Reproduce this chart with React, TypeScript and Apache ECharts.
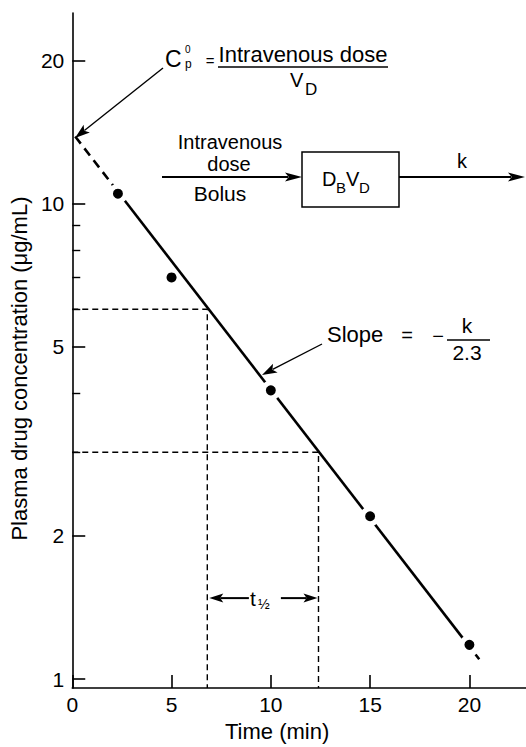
import React, { useEffect, useRef } from 'react';
import * as echarts from 'echarts';

// ---- data ----
const xTicks = [0, 5, 10, 15, 20];
const yMajorTicks = [1, 2, 5, 10, 20];
const yMinorTicks = [3, 4, 6, 7, 8, 9];
const times = [2.3, 5, 10, 15, 20];
const concentrations = [10.5, 7.0, 4.05, 2.2, 1.18];
// fitted line (log-linear), dashed extrapolations at both ends
const fitStart = [0.15, 13.85];
const fitFirst = [2.3, 10.6];
const fitLast = [20, 1.17];
const fitEnd = [20.5, 1.1];
// half-life construction
const halfLifeA = [6.8, 6];
const halfLifeB = [12.4, 3];
const tHalfArrowLevel = 1.48;
const X_MIN = 0;
const X_MAX = 22.85;
const Y_MIN = 0.957;
const Y_MAX = 25.2;

const FONT = '"Liberation Sans", Arial, Helvetica, sans-serif';

function txt(text: string, x: number, y: number, size: number, align = 'center', vAlign = 'middle') {
  return {
    type: 'text',
    x,
    y,
    silent: true,
    style: {
      text,
      fill: '#000',
      fontSize: size,
      fontFamily: FONT,
      align,
      verticalAlign: vAlign,
      textAlign: align,
      textVerticalAlign: vAlign,
    },
  };
}

function arrow(x1: number, y1: number, x2: number, y2: number, headLen: number, headW: number, lw: number) {
  const dx = x2 - x1;
  const dy = y2 - y1;
  const L = Math.hypot(dx, dy);
  const ux = dx / L;
  const uy = dy / L;
  const px = -uy;
  const py = ux;
  const bx = x2 - ux * headLen;
  const by = y2 - uy * headLen;
  return [
    {
      type: 'line',
      silent: true,
      shape: { x1, y1, x2: bx + ux * 3, y2: by + uy * 3 },
      style: { stroke: '#000', lineWidth: lw },
    },
    {
      type: 'polygon',
      silent: true,
      shape: {
        points: [
          [x2, y2],
          [bx + (px * headW) / 2, by + (py * headW) / 2],
          [x2 - ux * headLen * 0.78, y2 - uy * headLen * 0.78],
          [bx - (px * headW) / 2, by - (py * headW) / 2],
        ],
      },
      style: { fill: '#000' },
    },
  ];
}

export default function App() {
  const ref = useRef<HTMLDivElement>(null);

  useEffect(() => {
    if (!ref.current) return;
    const chart = echarts.init(ref.current, undefined, { renderer: 'svg' });

    const axisCommon = {
      splitLine: { show: false },
      minorTick: { show: false },
      minorSplitLine: { show: false },
    };

    const scatterData = times.map((t, i) =>
      i === 1
        ? { value: [t, concentrations[i]], symbolSize: 10, itemStyle: { borderWidth: 0 } }
        : { value: [t, concentrations[i]] }
    );

    const option: any = {
      animation: false,
      backgroundColor: '#ffffff',
      grid: { left: 70, right: 0, top: 13, bottom: 54, containLabel: false },
      xAxis: {
        type: 'value',
        min: X_MIN,
        max: X_MAX,
        interval: 5,
        ...axisCommon,
        axisLine: { show: true, lineStyle: { color: '#000', width: 1.6 } },
        axisTick: {
          show: true,
          inside: true,
          length: 13,
          customValues: xTicks,
          lineStyle: { color: '#000', width: 1.6 },
        },
        axisLabel: {
          customValues: xTicks,
          color: '#000',
          fontSize: 21,
          fontFamily: FONT,
          margin: 6,
        },
        name: 'Time (min)',
        nameLocation: 'middle',
        nameGap: 27,
        nameTextStyle: {
          color: '#000',
          fontSize: 22,
          fontFamily: FONT,
          padding: [0, 44, 0, 0],
        },
      },
      yAxis: [
        {
          type: 'log',
          logBase: 10,
          min: Y_MIN,
          max: Y_MAX,
          ...axisCommon,
          axisLine: { show: true, lineStyle: { color: '#000', width: 1.6 } },
          axisTick: {
            show: true,
            inside: true,
            length: 13,
            customValues: yMajorTicks,
            lineStyle: { color: '#000', width: 1.6 },
          },
          axisLabel: {
            customValues: yMajorTicks,
            color: '#000',
            fontSize: 21,
            fontFamily: FONT,
            margin: 8,
            formatter: (v: number) => String(Math.round(v)),
          },
          name: 'Plasma drug concentration (\u03bcg/mL)',
          nameLocation: 'middle',
          nameGap: 36,
          nameTextStyle: {
            color: '#000',
            fontSize: 22,
            fontFamily: FONT,
            padding: [0, 36, 0, 0],
          },
        },
        {
          type: 'log',
          logBase: 10,
          min: Y_MIN,
          max: Y_MAX,
          position: 'left',
          offset: 0,
          ...axisCommon,
          axisLine: { show: false },
          axisTick: {
            show: true,
            inside: true,
            length: 8,
            customValues: yMinorTicks,
            lineStyle: { color: '#000', width: 1.4 },
          },
          axisLabel: { show: false },
        },
      ],
      series: [
        {
          type: 'line',
          data: [fitStart, fitFirst],
          symbol: 'none',
          silent: true,
          lineStyle: { color: '#000', width: 2.6, type: [9, 6] },
          z: 3,
        },
        {
          type: 'line',
          data: [fitFirst, fitLast],
          symbol: 'none',
          silent: true,
          lineStyle: { color: '#000', width: 2.6, type: 'solid' },
          z: 3,
        },
        {
          type: 'line',
          data: [fitLast, fitEnd],
          symbol: 'none',
          silent: true,
          lineStyle: { color: '#000', width: 2.6, type: [6, 4] },
          z: 3,
        },
        {
          type: 'line',
          data: [[X_MIN, halfLifeA[1]], halfLifeA, [halfLifeA[0], Y_MIN]],
          symbol: 'none',
          silent: true,
          lineStyle: { color: '#000', width: 1.4, type: [6, 4] },
          z: 2,
        },
        {
          type: 'line',
          data: [[X_MIN, halfLifeB[1]], halfLifeB, [halfLifeB[0], Y_MIN]],
          symbol: 'none',
          silent: true,
          lineStyle: { color: '#000', width: 1.4, type: [6, 4] },
          z: 2,
        },
        {
          type: 'scatter',
          data: scatterData,
          symbol: 'circle',
          symbolSize: 15,
          silent: true,
          itemStyle: { color: '#000', borderColor: '#fff', borderWidth: 5, opacity: 1 },
          z: 5,
        },
      ],
    };

    chart.setOption(option);

    // t1/2 double arrow, anchored to the half-life times
    const pA = chart.convertToPixel({ gridIndex: 0 }, [halfLifeA[0], tHalfArrowLevel]) as number[];
    const pB = chart.convertToPixel({ gridIndex: 0 }, [halfLifeB[0], tHalfArrowLevel]) as number[];
    const ay = pA[1];
    const midX = (pA[0] + pB[0]) / 2;

    const graphics: any[] = [
      // C_p^0 annotation
      ...arrow(163, 68, 75, 138, 15, 10, 1.4),
      txt('C', 165, 59, 23, 'left'),
      txt('0', 185, 49, 10, 'left'),
      txt('p', 185, 64, 12, 'left'),
      txt('=', 210, 60, 15),
      txt('Intravenous dose', 303, 54, 22),
      { type: 'line', silent: true, shape: { x1: 218, y1: 67, x2: 388, y2: 67 }, style: { stroke: '#000', lineWidth: 1.3 } },
      txt('V', 290, 80, 20, 'left'),
      txt('D', 305, 89, 17, 'left'),
      // bolus diagram
      ...arrow(162, 177, 302, 177, 17, 9, 2),
      txt('Intravenous', 230, 142, 20),
      txt('dose', 229, 164, 20),
      txt('Bolus', 220, 193, 21),
      { type: 'rect', silent: true, shape: { x: 302, y: 152, width: 97, height: 55 }, style: { fill: 'none', stroke: '#000', lineWidth: 1.5 } },
      txt('D', 322, 179, 20, 'left'),
      txt('B', 336, 187, 15, 'left'),
      txt('V', 346, 179, 20, 'left'),
      txt('D', 359, 187, 15, 'left'),
      ...arrow(399, 177, 525, 177, 17, 9, 2),
      txt('k', 462, 161, 20),
      // slope annotation
      ...arrow(322, 344, 262, 375, 15, 10, 1.4),
      txt('Slope', 327, 334, 22, 'left'),
      txt('=', 407, 335, 20),
      txt('\u2212', 438, 336, 20),
      txt('k', 467, 325, 21),
      { type: 'line', silent: true, shape: { x1: 447, y1: 340, x2: 490, y2: 340 }, style: { stroke: '#000', lineWidth: 1.3 } },
      txt('2.3', 467, 352, 21),
      // t1/2
      ...arrow(midX - 14, ay, pA[0] + 2, ay, 14, 9, 2),
      ...arrow(midX + 18, ay, pB[0] - 1, ay, 14, 9, 2),
      txt('t', 250, ay, 21, 'left'),
      txt('\u00bd', 258, ay + 6, 14, 'left'),
    ];

    chart.setOption({ graphic: { elements: graphics } });

    return () => {
      chart.dispose();
    };
  }, []);

  return (
    <div
      ref={ref}
      style={{ position: 'absolute', left: 0, top: 0, width: 526, height: 747, background: '#fff' }}
    />
  );
}
